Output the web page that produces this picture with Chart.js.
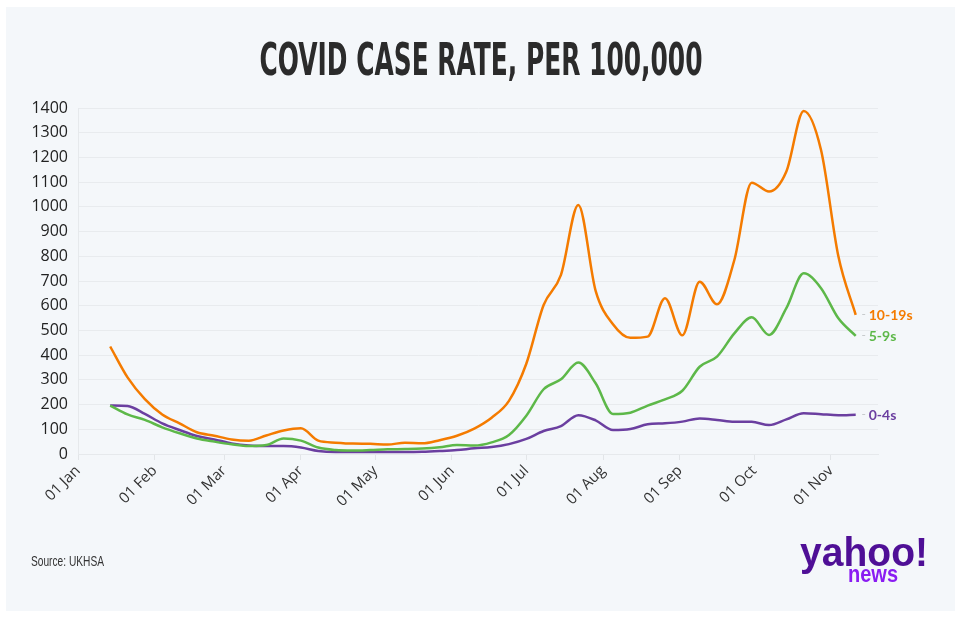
<!DOCTYPE html>
<html>
<head>
<meta charset="utf-8">
<title>Covid case rate, per 100,000</title>
<script src="https://cdn.jsdelivr.net/npm/chart.js@4.4.1/dist/chart.umd.min.js"></script>
<style>
  html, body { margin: 0; padding: 0; background: #ffffff; }
  #chart { display: block; }
</style>
</head>
<body>
<canvas id="chart" width="960" height="617"></canvas>
<script>
// weekly report dates (2021)
const weekDates = [
    '2021-01-14', '2021-01-21', '2021-01-28', '2021-02-04', '2021-02-11', '2021-02-18', '2021-02-25',
    '2021-03-04', '2021-03-11', '2021-03-18', '2021-03-25', '2021-04-01', '2021-04-08', '2021-04-15',
    '2021-04-22', '2021-04-29', '2021-05-06', '2021-05-13', '2021-05-20', '2021-05-27', '2021-06-03',
    '2021-06-10', '2021-06-17', '2021-06-24', '2021-07-01', '2021-07-08', '2021-07-15', '2021-07-22',
    '2021-07-29', '2021-08-05', '2021-08-12', '2021-08-19', '2021-08-26', '2021-09-02', '2021-09-09',
    '2021-09-16', '2021-09-23', '2021-09-30', '2021-10-07', '2021-10-14', '2021-10-21', '2021-10-28',
    '2021-11-04', '2021-11-11'
];

const rate10to19 = [
    435, 310, 222, 160, 124, 88, 74, 59, 54, 75, 95, 104, 54, 46,
    42, 41, 38, 46, 43, 56, 74, 103, 147, 215, 365, 603, 725, 1008,
    660, 525, 470, 475, 630, 480, 697, 606, 785, 1098, 1062, 1143, 1388, 1230,
    800, 563
];

const rate5to9 = [
    196, 160, 138, 108, 84, 63, 50, 39, 32, 36, 63, 54, 26, 16,
    14, 16, 19, 20, 22, 27, 36, 34, 47, 77, 155, 262, 302, 370,
    286, 162, 167, 196, 221, 256, 353, 394, 488, 553, 482, 590, 731, 671,
    549, 478
];

const rate0to4 = [
    196, 194, 162, 124, 97, 73, 59, 43, 34, 32, 32, 26, 12, 8,
    8, 8, 8, 8, 9, 12, 16, 23, 28, 40, 61, 93, 113, 157,
    136, 97, 101, 120, 124, 131, 144, 138, 130, 130, 117, 140, 165, 161,
    157, 159
];

const monthDates = [
    '2021-01-01', '2021-02-01', '2021-03-01', '2021-04-01', '2021-05-01', '2021-06-01',
    '2021-07-01', '2021-08-01', '2021-09-01', '2021-10-01', '2021-11-01'
];
const monthLabels = ['01 Jan', '01 Feb', '01 Mar', '01 Apr', '01 May', '01 Jun',
                     '01 Jul', '01 Aug', '01 Sep', '01 Oct', '01 Nov'];

const seriesNames = ['10-19s', '5-9s', '0-4s'];
const seriesColors = ['#f47b00', '#5db849', '#6b3fa0'];

// day number since 1 Jan
function dayOf(str) {
    const p = str.split('-').map(Number);
    return (Date.UTC(p[0], p[1] - 1, p[2]) - Date.UTC(p[0], 0, 1)) / 86400000;
}

function toPoints(values) {
    return values.map(function(v, i) {
        return { x: dayOf(weekDates[i]), y: v };
    });
}

// draws text squeezed to a given width
function drawFitted(ctx, text, x, y, width, align) {
    const w = ctx.measureText(text).width;
    const sx = width / w;
    ctx.save();
    ctx.translate(x, y);
    ctx.scale(sx, 1);
    ctx.textAlign = align;
    ctx.fillText(text, 0, 0);
    ctx.restore();
}

const decorations = {
    id: 'decorations',
    beforeDraw(chart) {
        const ctx = chart.ctx;
        ctx.save();
        ctx.fillStyle = '#ffffff';
        ctx.fillRect(0, 0, chart.width, chart.height);
        ctx.fillStyle = '#f4f7fa';
        ctx.fillRect(6, 7, 949, 604);
        ctx.restore();
    },
    afterDatasetsDraw(chart) {
        const ctx = chart.ctx;
        ctx.save();
        ctx.textBaseline = 'middle';
        chart.data.datasets.forEach(function(ds, i) {
            const pts = chart.getDatasetMeta(i).data;
            const last = pts[pts.length - 1];
            ctx.fillStyle = '#c4c7ca';
            ctx.font = '12px "Open Sans"';
            ctx.textAlign = 'left';
            ctx.fillText('-', last.x + 6, last.y);
            ctx.fillStyle = seriesColors[i];
            ctx.font = 'bold 14px Lato';
            ctx.fillText(seriesNames[i], last.x + 13, last.y + 1);
        });
        ctx.restore();
    },
    afterDraw(chart) {
        const ctx = chart.ctx;
        ctx.save();
        ctx.textBaseline = 'alphabetic';

        ctx.fillStyle = '#2b2b2b';
        ctx.font = 'bold 45px "DejaVu Sans", sans-serif';
        drawFitted(ctx, 'COVID CASE RATE, PER 100,000', 481, 75, 443, 'center');

        ctx.fillStyle = '#333333';
        ctx.font = '14px "Liberation Sans", sans-serif';
        drawFitted(ctx, 'Source: UKHSA', 31, 566, 73, 'left');

        ctx.fillStyle = '#4f0f96';
        ctx.font = 'bold 41px "Liberation Sans", sans-serif';
        drawFitted(ctx, 'yahoo!', 928, 566, 128, 'right');

        ctx.fillStyle = '#8a1cf2';
        ctx.font = 'bold 24px "Liberation Sans", sans-serif';
        drawFitted(ctx, 'news', 898, 582, 50, 'right');
        ctx.restore();
    }
};

const lineStyle = {
    borderWidth: 2.5,
    pointRadius: 0,
    pointHoverRadius: 0,
    fill: false,
    cubicInterpolationMode: 'monotone'
};

new Chart(document.getElementById('chart'), {
    type: 'line',
    data: {
        datasets: [
            Object.assign({ label: seriesNames[0], data: toPoints(rate10to19), borderColor: seriesColors[0] }, lineStyle),
            Object.assign({ label: seriesNames[1], data: toPoints(rate5to9), borderColor: seriesColors[1] }, lineStyle),
            Object.assign({ label: seriesNames[2], data: toPoints(rate0to4), borderColor: seriesColors[2] }, lineStyle)
        ]
    },
    options: {
        responsive: false,
        animation: false,
        events: [],
        layout: {
            padding: { top: 108, right: 82, bottom: 100, left: 0 }
        },
        plugins: {
            legend: { display: false },
            title: { display: false },
            tooltip: { enabled: false }
        },
        scales: {
            x: {
                type: 'linear',
                min: 0,
                max: 323,
                afterBuildTicks: function(scale) {
                    scale.ticks = monthDates.map(function(d) { return { value: dayOf(d) }; });
                },
                afterFit: function(scale) {
                    scale.height = 63;
                },
                ticks: {
                    autoSkip: false,
                    minRotation: 45,
                    maxRotation: 45,
                    padding: 2,
                    color: '#333333',
                    font: { family: '"Open Sans"', size: 15 },
                    callback: function(value, index) {
                        return monthLabels[index];
                    }
                },
                grid: {
                    drawOnChartArea: false,
                    drawTicks: true,
                    tickLength: 6,
                    color: '#e2e5e8'
                },
                border: { display: true, color: '#e6e9ec' }
            },
            y: {
                min: 0,
                max: 1400,
                afterFit: function(scale) {
                    scale.width = 78;
                },
                ticks: {
                    stepSize: 100,
                    padding: 10,
                    color: '#222222',
                    font: { family: '"Open Sans"', size: 16 },
                    callback: function(value) {
                        return String(value);
                    }
                },
                grid: {
                    drawTicks: false,
                    color: '#e8ebee'
                },
                border: { display: true, color: '#e6e9ec' }
            }
        }
    },
    plugins: [decorations]
});
</script>
</body>
</html>
